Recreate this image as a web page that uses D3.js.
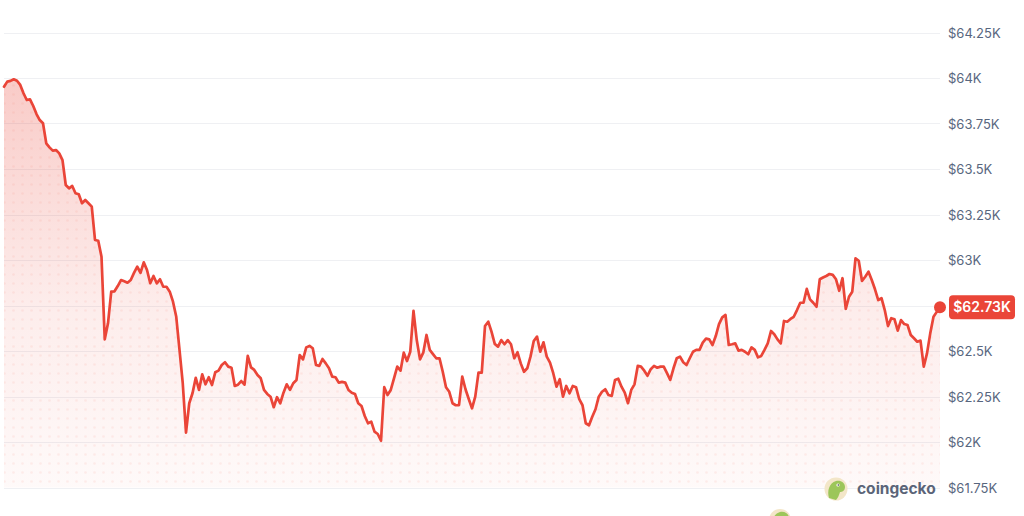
<!DOCTYPE html>
<html>
<head>
<meta charset="utf-8">
<script src="https://cdn.jsdelivr.net/npm/d3@7"></script>
<style>
  html, body { margin: 0; padding: 0; background: #ffffff; }
  svg { display: block; font-family: Inter, "Noto Sans", sans-serif; }
</style>
</head>
<body>
<svg id="chart" width="1024" height="516"></svg>
<script>
// BTC price (thousand USD), 5-minute samples over 24h
const prices = [
63.952,63.980,63.984,63.993,63.985,63.962,63.916,63.879,63.883,63.846,
63.802,63.769,63.751,63.641,63.619,63.601,63.604,63.586,63.549,63.412,
63.394,63.407,63.367,63.361,63.312,63.330,63.312,63.293,63.110,63.106,
63.018,62.564,62.652,62.826,62.828,62.857,62.890,62.883,62.875,62.890,
62.929,62.963,62.930,62.987,62.945,62.872,62.912,62.872,62.894,62.853,
62.853,62.826,62.771,62.688,62.506,62.323,62.051,62.213,62.268,62.353,
62.286,62.372,62.317,62.356,62.313,62.383,62.392,62.423,62.438,62.414,
62.408,62.308,62.315,62.335,62.315,62.473,62.410,62.396,62.368,62.350,
62.286,62.264,62.249,62.191,62.246,62.213,62.271,62.317,62.286,62.323,
62.341,62.478,62.454,62.520,62.528,62.515,62.423,62.418,62.456,62.432,
62.405,62.359,62.356,62.326,62.330,62.326,62.286,62.271,62.264,62.213,
62.198,62.143,62.103,62.112,62.057,62.044,62.007,62.301,62.258,62.286,
62.350,62.414,62.392,62.491,62.445,62.496,62.720,62.560,62.454,62.491,
62.588,62.506,62.483,62.460,62.460,62.386,62.301,62.276,62.213,62.202,
62.203,62.359,62.290,62.236,62.185,62.249,62.381,62.381,62.637,62.661,
62.606,62.539,62.524,62.560,62.537,62.560,62.537,62.460,62.493,62.432,
62.386,62.405,62.469,62.555,62.579,62.496,62.548,62.469,62.436,62.378,
62.304,62.345,62.249,62.308,62.268,62.308,62.301,62.235,62.202,62.103,
62.092,62.139,62.180,62.249,62.276,62.290,62.258,62.253,62.341,62.348,
62.304,62.271,62.213,62.286,62.317,62.418,62.414,62.392,62.364,62.400,
62.418,62.408,62.414,62.414,62.378,62.341,62.405,62.460,62.469,62.438,
62.423,62.460,62.496,62.506,62.506,62.546,62.568,62.564,62.533,62.582,
62.648,62.685,62.698,62.533,62.537,62.542,62.502,62.506,62.496,62.482,
62.520,62.506,62.465,62.473,62.506,62.542,62.610,62.592,62.564,62.542,
62.665,62.661,62.676,62.688,62.725,62.765,62.765,62.841,62.784,62.765,
62.743,62.894,62.904,62.912,62.923,62.918,62.894,62.831,62.900,62.732,
62.798,62.826,63.009,62.996,62.885,62.908,62.936,62.890,62.839,62.780,
62.790,62.725,62.637,62.680,62.674,62.612,62.670,62.648,62.643,62.588,
62.570,62.551,62.557,62.414,62.487,62.597,62.688,62.715,62.730
];
const yTicks = [61.75, 62, 62.25, 62.5, 62.75, 63, 63.25, 63.5, 63.75, 64, 64.25];
const yTickLabels = ["$61.75K","$62K","$62.25K","$62.5K","","$63K","$63.25K","$63.5K","$63.75K","$64K","$64.25K"];
const lastLabel = "$62.73K";
const brand = "coingecko";

const svg = d3.select("#chart");
const red = "#ea4538";

const x = d3.scaleLinear().domain([0, prices.length - 1]).range([4, 940]);
const y = d3.scaleLinear().domain([61.75, 64.25]).range([487.5, 32.5]);

const defs = svg.append("defs");
const grad = defs.append("linearGradient").attr("id", "areaGrad")
  .attr("gradientUnits", "userSpaceOnUse")
  .attr("x1", 0).attr("y1", y(64)).attr("x2", 0).attr("y2", y(61.75));
grad.append("stop").attr("offset", "0%").attr("stop-color", red).attr("stop-opacity", 0.28);
grad.append("stop").attr("offset", "55%").attr("stop-color", red).attr("stop-opacity", 0.10);
grad.append("stop").attr("offset", "100%").attr("stop-color", red).attr("stop-opacity", 0.03);

const pat = defs.append("pattern").attr("id", "dots")
  .attr("patternUnits", "userSpaceOnUse").attr("width", 9).attr("height", 9);
pat.append("circle").attr("cx", 4.5).attr("cy", 4.5).attr("r", 1.3)
  .attr("fill", red).attr("fill-opacity", 0.08);

// grid
svg.append("g").selectAll("line").data(yTicks).join("line")
  .attr("x1", 4).attr("x2", 940)
  .attr("y1", d => Math.round(y(d)) + 0.5).attr("y2", d => Math.round(y(d)) + 0.5)
  .attr("stroke", "#eff0f3").attr("stroke-width", 1);

// area
const area = d3.area().x((d, i) => x(i)).y0(y(61.75)).y1(d => y(d)).curve(d3.curveLinear);
svg.append("path").datum(prices).attr("d", area).attr("fill", "url(#areaGrad)");
svg.append("path").datum(prices).attr("d", area).attr("fill", "url(#dots)");

// line
const line = d3.line().x((d, i) => x(i)).y(d => y(d)).curve(d3.curveLinear);
svg.append("path").datum(prices).attr("d", line)
  .attr("fill", "none").attr("stroke", red).attr("stroke-width", 2.7)
  .attr("stroke-linejoin", "round").attr("stroke-linecap", "round");

// y-axis labels
const axis = d3.axisRight(y).tickValues(yTicks).tickSize(0).tickPadding(0)
  .tickFormat(d => yTickLabels[yTicks.indexOf(d)]);
const ag = svg.append("g").attr("transform", "translate(948,0)").call(axis);
ag.select(".domain").remove();
ag.selectAll("text").attr("fill", "#58667e").attr("font-size", 13)
  .attr("font-family", "Inter, 'Noto Sans', sans-serif").attr("dy", "0.35em");

// last value marker
const lastV = prices[prices.length - 1];
const lx = x(prices.length - 1), ly = y(lastV);
svg.append("circle").attr("cx", lx).attr("cy", ly - 2).attr("r", 6).attr("fill", red);
const lg = svg.append("g").attr("transform", `translate(949,${ly - 2})`);
lg.append("rect").attr("x", 0).attr("y", -12).attr("width", 66).attr("height", 24)
  .attr("rx", 4).attr("fill", red);
lg.append("text").attr("x", 33).attr("y", 0).attr("dy", "0.36em").attr("text-anchor", "middle")
  .attr("fill", "#ffffff").attr("font-size", 14).attr("font-weight", 600).text(lastLabel);

// watermark
const wm = svg.append("g").attr("transform", "translate(836,489)");
wm.append("circle").attr("r", 11.5).attr("fill", "#f3e6c8");
wm.append("path").attr("d", "M-7,9 C-9,2 -7,-6 0,-8 C5,-9 9,-6 9,-2 C9,2 6,3 4,3 C3,6 2,9 0,11 Z")
  .attr("fill", "#9cc65a");
wm.append("circle").attr("cx", 2).attr("cy", -4).attr("r", 1.6).attr("fill", "#ffffff");
wm.append("circle").attr("cx", 2.3).attr("cy", -4).attr("r", 0.8).attr("fill", "#3a3a3a");
svg.append("text").attr("x", 857).attr("y", 489).attr("dy", "0.35em")
  .attr("fill", "#5b6478").attr("font-size", 15.5).attr("font-weight", 700).text(brand);

// partial logo peeking at bottom
const wm2 = svg.append("g").attr("transform", "translate(780,520)");
wm2.append("circle").attr("r", 11).attr("fill", "#f3e6c8");
wm2.append("path").attr("d", "M-7,9 C-9,2 -7,-6 0,-8 C5,-9 9,-6 9,-2 C9,2 6,3 4,3 C3,6 2,9 0,11 Z")
  .attr("fill", "#9cc65a");
</script>
</body>
</html>
